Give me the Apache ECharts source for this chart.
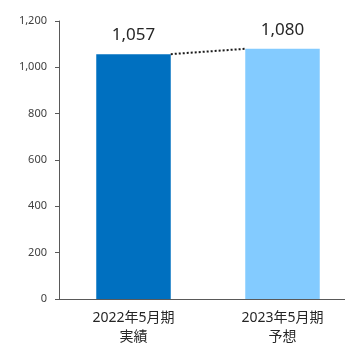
<!DOCTYPE html>
<html><head><meta charset="utf-8">
<script src="https://cdn.jsdelivr.net/npm/echarts@6/dist/echarts.min.js"></script>
<style>html,body{margin:0;padding:0;background:#fff}#c{width:345px;height:344px}</style>
</head><body><div id="c"></div>
<script>
const categories = ['2022年5月期\n実績', '2023年5月期\n予想'];
const values = [1057, 1080];
const barColors = ['#0070C0', '#83CBFF'];
const yTicks = [0, 200, 400, 600, 800, 1000, 1200];

const chart = echarts.init(document.getElementById('c'), null, {renderer: 'canvas'});
const font = '"Noto Sans", "Noto Sans CJK JP", sans-serif';
// connector from right edge of bar 1 to left edge of bar 2 (bars are 50% of a category)
const connector = [[0.75, values[0]], [1.25, values[1]]];

chart.setOption({
  animation: false,
  grid: {left: 59, top: 21, bottom: 45, right: -12, containLabel: false, outerBoundsMode: 'none'},
  xAxis: [{
    type: 'category', data: categories,
    axisLine: {lineStyle: {color: '#595959', width: 1}},
    axisTick: {show: false},
    axisLabel: {color: '#262626', fontSize: 14, lineHeight: 19, margin: 10, fontFamily: font}
  }, {
    type: 'value', min: 0, max: 2, show: false
  }],
  yAxis: {
    type: 'value', min: yTicks[0], max: yTicks[yTicks.length - 1], interval: 200,
    splitLine: {show: false},
    axisLine: {show: true, lineStyle: {color: '#595959', width: 1}},
    axisTick: {show: true, length: 4, lineStyle: {color: '#595959'}},
    axisLabel: {color: '#404040', fontSize: 11, margin: 12, fontFamily: font,
      formatter: v => v.toLocaleString('en-US')}
  },
  series: [{
    type: 'bar', barWidth: '50%', xAxisIndex: 0,
    data: values.map((v, i) => ({value: v, itemStyle: {color: barColors[i]}})),
    label: {show: true, position: 'top', distance: 10, color: '#262626', fontSize: 17,
      fontFamily: font, formatter: p => p.value.toLocaleString('en-US')}
  }, {
    type: 'line', xAxisIndex: 1, data: connector, symbol: 'none',
    lineStyle: {color: '#1a1a1a', width: 2, type: [2, 2]}, z: 5
  }]
});
</script></body></html>
